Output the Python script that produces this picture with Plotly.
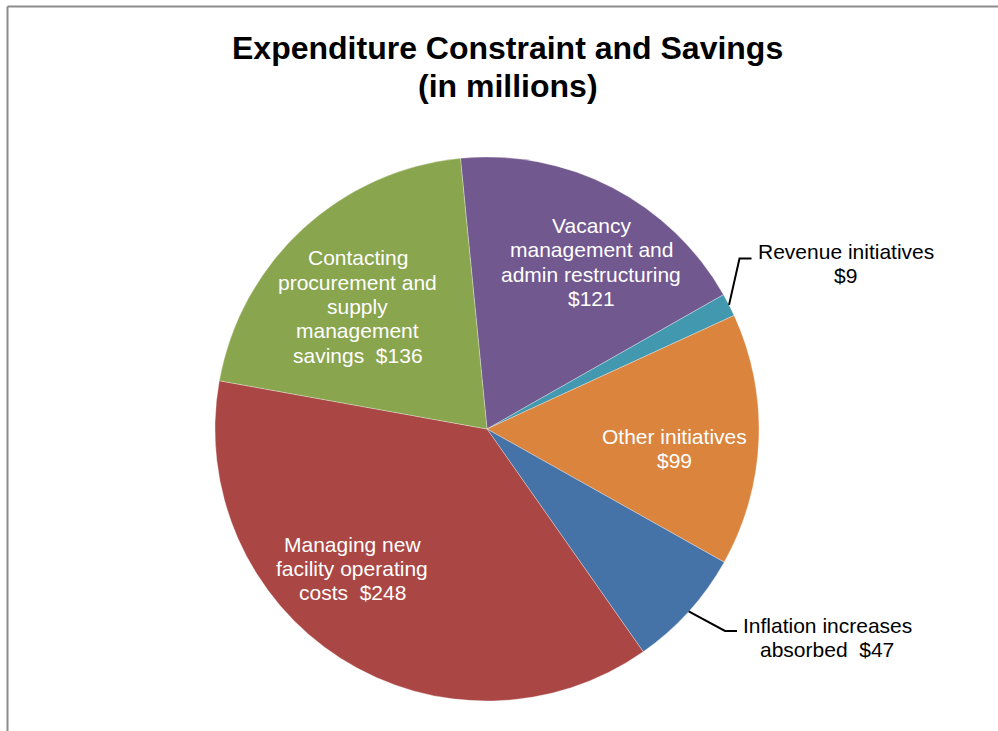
import math
import plotly.graph_objects as go

# ---- data (millions of dollars) ----
categories = [
    "Vacancy management and admin restructuring",
    "Revenue initiatives",
    "Other initiatives",
    "Inflation increases absorbed",
    "Managing new facility operating costs",
    "Contacting procurement and supply management savings",
]
values = [121, 9, 99, 47, 248, 136]
label_heads = [
    "Vacancy<br>management and<br>admin restructuring<br>",
    "Revenue initiatives<br>",
    "Other initiatives<br>",
    "Inflation increases<br>absorbed\u00a0 ",
    "Managing new<br>facility operating<br>costs\u00a0 ",
    "Contacting<br>procurement and<br>supply<br>management<br>savings\u00a0 ",
]
title_lines = ["Expenditure Constraint and Savings", "(in millions)"]
colors = ["#71588F", "#4198AF", "#DB843D", "#4572A7", "#AA4643", "#89A54E"]

# ---- layout geometry (pixels) ----
W, H = 998, 731
CX, CY, R = 487, 429, 272
ROTATION = -5.6  # start angle of first slice, degrees clockwise from 12 o'clock
FONT = "Liberation Sans, Arial, sans-serif"
LABEL_SIZE = 21
LINE_STEP = 24.4
TITLE_SIZE = 32
TITLE_X = 508
TITLE_Y = [48, 86]

# label placement: inside labels as (angle deg, radius px); outside as leader elbow + text centre
INSIDE = {0: (32.0, 197), 2: (96.0, 189), 4: (224.0, 194), 5: (313.5, 178)}
OUTSIDE = {
    1: {"elbow": (739.5, 258.5), "end": (751.5, 258.5), "text": (845.5, 263.5)},
    3: {"elbow": (725.0, 631.0), "end": (737.0, 631.0), "text": (827.0, 637.5)},
}


def px(x, y):
    return x / W, 1 - y / H


def polar(angle_deg, r):
    a = math.radians(angle_deg)
    return CX + r * math.sin(a), CY - r * math.cos(a)


total = sum(values)
mids = []
acc = ROTATION
for v in values:
    span = 360.0 * v / total
    mids.append(acc + span / 2)
    acc += span

fig = go.Figure(
    go.Pie(
        labels=categories,
        values=values,
        sort=False,
        direction="clockwise",
        rotation=ROTATION,
        marker=dict(colors=colors, line=dict(color="rgba(255,255,255,0.3)", width=1)),
        textinfo="none",
        hoverinfo="label+value",
        showlegend=False,
        domain=dict(x=[(CX - R) / W, (CX + R) / W], y=[1 - (CY + R) / H, 1 - (CY - R) / H]),
    )
)

annotations = []
shapes = []


def add_text_block(lines, cx, cy, color, size, step, bold=False):
    n = len(lines)
    for k, line in enumerate(lines):
        ly = cy + (k - (n - 1) / 2) * step
        x, y = px(cx, ly)
        annotations.append(dict(
            x=x, y=y, xref="paper", yref="paper",
            text=f"<b>{line}</b>" if bold else line, showarrow=False,
            xanchor="center", yanchor="middle", align="center",
            font=dict(family=FONT, size=size, color=color),
        ))


for i, (head, v) in enumerate(zip(label_heads, values)):
    lines = f"{head}${v}".split("<br>")
    if i in INSIDE:
        ang, rr = INSIDE[i]
        cx, cy = polar(ang, rr)
        add_text_block(lines, cx, cy, "white", LABEL_SIZE, LINE_STEP)
    else:
        cfg = OUTSIDE[i]
        x0, y0 = polar(mids[i], R)
        ex, ey = cfg["elbow"]
        hx, hy = cfg["end"]
        path = "M {} {} L {} {} L {} {}".format(*px(x0, y0), *px(ex, ey), *px(hx, hy))
        shapes.append(dict(type="path", xref="paper", yref="paper", path=path,
                           line=dict(color="black", width=2)))
        add_text_block(lines, *cfg["text"], "black", LABEL_SIZE, LINE_STEP)

# chart title
for line, ty in zip(title_lines, TITLE_Y):
    x, y = px(TITLE_X, ty)
    annotations.append(dict(
        x=x, y=y, xref="paper", yref="paper", text=f"<b>{line}</b>", showarrow=False,
        xanchor="center", yanchor="middle",
        font=dict(family=FONT, size=TITLE_SIZE, color="black"),
    ))

# chart frame (top and left edges visible)
for x0, y0, x1, y1 in [(7.5, 6.5, W + 5, 6.5), (7.5, 6.5, 7.5, H + 5)]:
    shapes.append(dict(type="line", xref="paper", yref="paper",
                       x0=x0 / W, y0=1 - y0 / H, x1=x1 / W, y1=1 - y1 / H,
                       line=dict(color="#8C8C8C", width=2)))

fig.update_layout(
    width=W, height=H,
    margin=dict(l=0, r=0, t=0, b=0),
    paper_bgcolor="white",
    annotations=annotations,
    shapes=shapes,
)

fig.write_html("out.html")
